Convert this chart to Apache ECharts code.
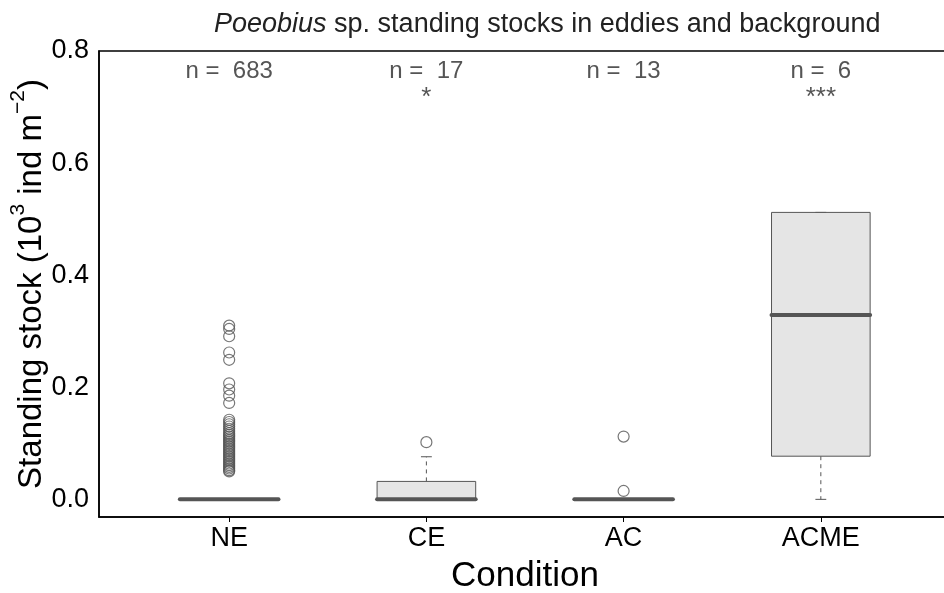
<!DOCTYPE html>
<html>
<head>
<meta charset="utf-8">
<script src="https://cdn.jsdelivr.net/npm/echarts@6/dist/echarts.min.js"></script>
<style>html,body{margin:0;padding:0;background:#fff}#c{width:944px;height:593px}</style>
</head>
<body>
<div id="c"></div>
<script>
// ---- data ----
var categories = ['NE', 'CE', 'AC', 'ACME'];
// [min, Q1, median, Q3, max] per category
var boxStats = [
  [0, 0, 0, 0, 0],
  [0, 0, 0, 0.032, 0.076],
  [0, 0, 0, 0, 0],
  [0, 0.077, 0.329, 0.512, 0.512]
];
var outliersNE = [0.310, 0.304, 0.291, 0.262, 0.249, 0.207, 0.196, 0.185, 0.172,
  0.142, 0.138, 0.134, 0.130, 0.126, 0.122, 0.118, 0.115, 0.112, 0.109, 0.106, 0.103,
  0.100, 0.097, 0.094, 0.091, 0.088, 0.085, 0.082, 0.079, 0.076, 0.073, 0.070, 0.067,
  0.064, 0.061, 0.058, 0.055, 0.052, 0.050];
var outliersCE = [0.102];
var outliersAC = [0.112, 0.015];
var outliersACME = [];
var nCounts = [683, 17, 13, 6];
var signif = ['', '*', '', '***'];
var yTicks = [0, 0.2, 0.4, 0.6, 0.8];

// ---- build ----
var FONT = 'Liberation Sans';
var boxData = boxStats.map(function (s, i) { return [i + 1].concat(s); });
var outlierData = [];
[outliersNE, outliersCE, outliersAC, outliersACME].forEach(function (arr, i) {
  arr.forEach(function (v) { outlierData.push([i + 1, v]); });
});
var nLabelY = 0.763, sigLabelY = 0.716;
var annData = categories.map(function (c, i) { return [i + 1, nLabelY, 'n =  ' + nCounts[i], signif[i]]; });

var chart = echarts.init(document.getElementById('c'), null, {renderer: 'canvas'});
var GREY = '#555555';

function renderBox(params, api) {
  var x = api.value(0);
  var mn = api.coord([x, api.value(1)]);
  var q1 = api.coord([x, api.value(2)]);
  var md = api.coord([x, api.value(3)]);
  var q3 = api.coord([x, api.value(4)]);
  var mx = api.coord([x, api.value(5)]);
  var halfW = api.size([0.5, 0])[0] / 2;
  var capW = api.size([0.055, 0])[0] / 2;
  var cx = q1[0];
  var children = [];
  var dash = {stroke: GREY, lineWidth: 1, lineDash: [4, 4]};
  if (mx[1] < q3[1]) children.push({type: 'line', shape: {x1: cx, y1: q3[1], x2: cx, y2: mx[1]}, style: dash});
  if (mn[1] > q1[1]) children.push({type: 'line', shape: {x1: cx, y1: q1[1], x2: cx, y2: mn[1]}, style: dash});
  children.push({type: 'line', shape: {x1: cx - capW, y1: mx[1], x2: cx + capW, y2: mx[1]}, style: {stroke: GREY, lineWidth: 1}});
  children.push({type: 'line', shape: {x1: cx - capW, y1: mn[1], x2: cx + capW, y2: mn[1]}, style: {stroke: GREY, lineWidth: 1}});
  children.push({type: 'rect', shape: {x: cx - halfW, y: q3[1], width: halfW * 2, height: q1[1] - q3[1]},
    style: {fill: '#e5e5e5', stroke: GREY, lineWidth: 1}});
  children.push({type: 'line', shape: {x1: cx - halfW, y1: md[1], x2: cx + halfW, y2: md[1]},
    style: {stroke: GREY, lineWidth: 4, lineCap: 'round'}});
  return {type: 'group', children: children};
}

function renderAnn(params, api) {
  var i = params.dataIndex;
  var p = api.coord([api.value(0), nLabelY]);
  var q = api.coord([api.value(0), sigLabelY]);
  return {type: 'group', children: [
    {type: 'text', x: p[0], y: p[1], style: {text: annData[i][2], fill: GREY, font: '24px "' + FONT + '"', align: 'center', verticalAlign: 'middle'}},
    {type: 'text', x: q[0], y: q[1], style: {text: annData[i][3], fill: GREY, font: '26px "' + FONT + '"', align: 'center', verticalAlign: 'middle'}}
  ]};
}

var option = {
  backgroundColor: '#fff',
  animation: false,
  textStyle: {fontFamily: FONT},
  title: {
    text: '{i|Poeobius}{r| sp. standing stocks in eddies and background}',
    left: 209, top: 6,
    textStyle: {
      fontWeight: 'normal',
      rich: {
        i: {fontSize: 27, fontStyle: 'italic', fontWeight: 'normal', color: '#222', fontFamily: FONT},
        r: {fontSize: 27, fontWeight: 'normal', color: '#222', fontFamily: FONT}
      }
    }
  },
  grid: {left: 99, top: 51, width: 852, height: 466, show: true, borderColor: '#000', borderWidth: 1.5,
    containLabel: false, outerBoundsMode: 'none'},
  xAxis: {
    type: 'value', min: 0.34, max: 4.66,
    splitLine: {show: false},
    axisLine: {show: true, onZero: false, lineStyle: {color: '#000', width: 1.5}},
    axisTick: {show: true, customValues: [1, 2, 3, 4], length: 5, lineStyle: {color: '#000', width: 1}},
    axisLabel: {customValues: [1, 2, 3, 4], color: '#000', fontSize: 27, margin: 8, fontFamily: FONT,
      formatter: function (v) { return categories[Math.round(v) - 1] || ''; }},
    name: 'Condition', nameLocation: 'middle', nameGap: 42,
    nameTextStyle: {fontSize: 35, color: '#000', fontFamily: FONT}
  },
  yAxis: {
    type: 'value', min: -0.0315, max: 0.8,
    splitLine: {show: false},
    axisLine: {show: true, onZero: false, lineStyle: {color: '#000', width: 1.5}},
    axisTick: {show: false},
    axisLabel: {customValues: yTicks, color: '#000', fontSize: 27, margin: 10, fontFamily: FONT,
      formatter: function (v) { return v.toFixed(1); }},
    name: '{a|Standing stock (10}{s|3}{a| ind m}{s|\u22122}{a|)}',
    nameLocation: 'middle', nameGap: 51, nameMoveOverlap: false,
    nameTextStyle: {
      rich: {
        a: {fontSize: 33, color: '#000', fontFamily: FONT, verticalAlign: 'bottom', lineHeight: 40},
        s: {fontSize: 21, color: '#000', fontFamily: FONT, verticalAlign: 'top', lineHeight: 21}
      }
    }
  },
  series: [
    {type: 'custom', renderItem: renderBox, data: boxData, encode: {x: 0, y: [1, 2, 3, 4, 5]}, z: 2, silent: true},
    {type: 'scatter', data: outlierData, symbol: 'circle', symbolSize: 11, z: 3, silent: true,
      itemStyle: {color: 'rgba(0,0,0,0)', borderColor: GREY, borderWidth: 1.2}},
    {type: 'custom', renderItem: renderAnn, data: annData.map(function (d) { return [d[0], d[1]]; }), z: 4, silent: true}
  ]
};
chart.setOption(option);
</script>
</body>
</html>
